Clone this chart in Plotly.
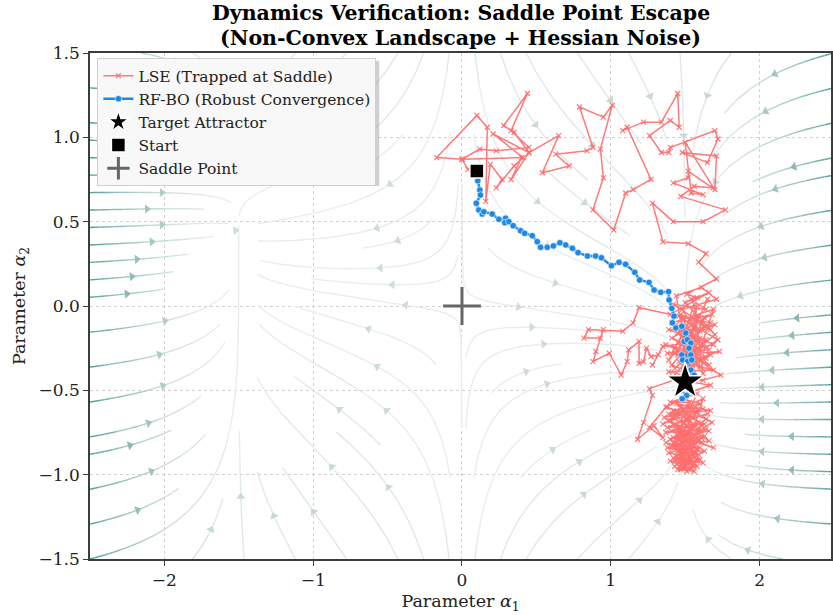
import numpy as np
import plotly.graph_objects as go

# ---------------- data ----------------
# LSE iterates: wandering phase near the start, then the noisy cloud around the attractor
lse_wander = [
    (0.10, 0.80), (0.04, 0.81), (0.00, 0.87), (-0.17, 0.88), (0.10, 1.13), (0.17, 1.06),
    (0.16, 0.62), (0.19, 0.84), (0.27, 0.75), (0.23, 0.70), (0.35, 0.83), (0.41, 0.88),
    (0.21, 1.02), (0.45, 0.91), (0.35, 1.03), (0.28, 1.07), (0.44, 1.26), (0.33, 1.04),
    (0.45, 0.94), (0.23, 0.92), (0.12, 0.93), (0.00, 0.87), (0.40, 0.88), (0.33, 0.75),
    (0.45, 0.91), (0.65, 1.01), (0.54, 0.79), (0.72, 0.83), (0.63, 0.90), (0.84, 0.92),
    (0.88, 0.94), (0.79, 1.18), (0.95, 1.12), (1.01, 1.19), (0.93, 0.93), (0.95, 0.76),
    (0.88, 0.57), (1.02, 0.45), (1.10, 0.67), (1.15, 0.69), (1.27, 0.75), (1.11, 1.06),
    (1.08, 1.04), (1.22, 1.09), (1.34, 1.09), (1.45, 1.26), (1.46, 1.06), (1.40, 1.10),
    (1.26, 1.01), (1.34, 0.91), (1.39, 0.91), (1.40, 0.94), (1.70, 1.04), (1.72, 0.99),
    (1.65, 0.85), (1.48, 0.91), (1.71, 0.89), (1.70, 0.69), (1.52, 0.80), (1.52, 0.76),
    (1.42, 0.73), (1.62, 0.66), (1.54, 0.67), (1.50, 0.97), (1.69, 0.70), (1.56, 0.71),
    (1.47, 0.65), (1.77, 0.57), (1.62, 0.50), (1.42, 0.50), (1.28, 0.61), (1.35, 0.38),
    (1.52, 0.37), (1.64, 0.31), (1.59, 0.26), (1.71, 0.16), (1.51, 0.07), (1.58, 0.05),
]
lse_core_upper = [
    (1.54, 0.04), (1.64, -0.02), (1.42, 0.01), (1.61, -0.10), (1.47, -0.05), (1.67, -0.14),
    (1.39, -0.14), (1.57, -0.20), (1.44, -0.11), (1.69, -0.23), (1.50, -0.26), (1.37, -0.23),
    (1.61, -0.32), (1.54, -0.17), (1.65, 0.04), (1.46, -0.33), (1.69, -0.38), (1.39, -0.39),
    (1.59, -0.43), (1.50, -0.29), (1.63, -0.07), (1.41, -0.19), (1.67, -0.29), (1.52, -0.37),
    (1.44, 0.06), (1.61, 0.11), (1.71, 0.04), (1.48, -0.02), (1.56, -0.13), (1.39, -0.32),
    (1.53, -0.08), (1.68, -0.05), (1.45, -0.16), (1.62, -0.24), (1.49, -0.36), (1.58, -0.01),
    (1.43, -0.25), (1.66, -0.35), (1.51, -0.21), (1.60, -0.15), (1.46, -0.06), (1.57, -0.33),
    (1.40, -0.05), (1.66, 0.08), (1.50, 0.02), (1.70, -0.17), (1.43, -0.37), (1.58, -0.25),
    (1.38, -0.28), (1.64, -0.31), (1.47, -0.14), (1.55, -0.39), (1.69, -0.02), (1.41, -0.10),
    (1.60, -0.19), (1.52, -0.33), (1.73, -0.27), (1.45, -0.29), (1.56, 0.01), (1.62, -0.40),
    (1.48, -0.23), (1.67, -0.10),
]
lse_left_lobe = [
    (1.19, -0.01), (1.15, -0.10), (1.08, -0.15), (0.85, -0.14), (0.82, -0.19), (0.93, -0.19),
    (0.95, -0.14), (0.90, -0.27), (0.88, -0.33), (0.99, -0.28), (1.07, -0.41), (1.11, -0.33),
    (1.12, -0.26), (1.19, -0.21), (1.19, -0.34), (1.22, -0.33), (1.24, -0.25), (1.27, -0.30),
    (1.32, -0.29), (1.28, -0.35), (1.35, -0.24),
]
lse_core_mid = [
    (1.64, -0.20), (1.47, -0.44), (1.67, -0.47), (1.54, -0.51), (1.58, -0.06), (1.45, -0.22),
    (1.70, -0.11), (1.52, -0.15), (1.66, -0.26), (1.43, -0.28), (1.60, -0.36), (1.49, -0.08),
    (1.72, -0.20), (1.55, -0.30), (1.74, -0.41), (1.62, -0.44), (1.42, -0.42), (1.56, -0.27),
    (1.48, -0.18), (1.63, -0.12), (1.41, -0.35), (1.55, -0.40),
]
lse_lower_left = [
    (1.26, -0.49), (1.28, -0.53), (1.22, -0.69), (1.18, -0.79), (1.29, -0.71), (1.35, -0.78),
    (1.26, -0.72), (1.37, -0.60),
]
lse_bottom = [
    (1.48, -0.55), (1.60, -0.58), (1.42, -0.62), (1.55, -0.66), (1.38, -0.60), (1.63, -0.70),
    (1.46, -0.72), (1.58, -0.63), (1.40, -0.68), (1.52, -0.76), (1.66, -0.74), (1.44, -0.79),
    (1.57, -0.82), (1.41, -0.74), (1.61, -0.78), (1.49, -0.84), (1.37, -0.81), (1.55, -0.88),
    (1.45, -0.86), (1.63, -0.86), (1.51, -0.92), (1.42, -0.90), (1.58, -0.95), (1.47, -0.97),
    (1.53, -0.89), (1.43, -0.95), (1.56, -0.83), (1.39, -0.87), (1.60, -0.91), (1.50, -0.80),
    (1.46, -0.93), (1.54, -0.96), (1.48, -0.88), (1.59, -0.74), (1.43, -0.70), (1.65, -0.64),
    (1.51, -0.67), (1.38, -0.72), (1.56, -0.71), (1.47, -0.60), (1.62, -0.61), (1.44, -0.65),
    (1.53, -0.57), (1.40, -0.57), (1.58, -0.52), (1.49, -0.69), (1.61, -0.81), (1.45, -0.77),
    (1.69, -0.84), (1.54, -0.79), (1.41, -0.83), (1.57, -0.87), (1.50, -0.95), (1.44, -0.89),
    (1.52, -0.84), (1.63, -0.77), (1.47, -0.74), (1.36, -0.66), (1.55, -0.62), (1.68, -0.69),
    (1.48, -0.81), (1.58, -0.85), (1.42, -0.78), (1.50, -0.73), (1.46, -0.82), (1.53, -0.93),
    (1.49, -0.96), (1.55, -0.70), (1.45, -0.63), (1.52, -0.60), (1.47, -0.68), (1.57, -0.77),
    (1.43, -0.84), (1.54, -0.91), (1.48, -0.76), (1.51, -0.88), (1.46, -0.95), (1.56, -0.93),
    (1.50, -0.86), (1.44, -0.73), (1.53, -0.81), (1.49, -0.91),
    (1.62, -0.55), (1.39, -0.64), (1.67, -0.62), (1.44, -0.58), (1.59, -0.69), (1.37, -0.75),
    (1.64, -0.73), (1.42, -0.81), (1.60, -0.84), (1.47, -0.90), (1.62, -0.93), (1.40, -0.92),
    (1.56, -0.98), (1.45, -0.97), (1.59, -0.88), (1.38, -0.84), (1.66, -0.80), (1.51, -0.71),
    (1.41, -0.66), (1.57, -0.60), (1.35, -0.70), (1.49, -0.62), (1.64, -0.67), (1.46, -0.79),
    (1.59, -0.80), (1.43, -0.92), (1.55, -0.85), (1.50, -0.77), (1.61, -0.71), (1.47, -0.86),
    (1.53, -0.74), (1.40, -0.79), (1.58, -0.91), (1.49, -0.93), (1.44, -0.81), (1.55, -0.95),
    (1.51, -0.98), (1.46, -0.88), (1.57, -0.79), (1.52, -0.69),
]

# RF-BO iterates
rfbo_path = [
    (0.10, 0.80), (0.106, 0.743), (0.120, 0.688), (0.124, 0.658), (0.096, 0.609), (0.113, 0.569),
    (0.136, 0.545), (0.147, 0.559), (0.203, 0.545), (0.248, 0.514), (0.293, 0.520), (0.288, 0.494),
    (0.315, 0.500), (0.344, 0.476), (0.394, 0.446), (0.421, 0.431), (0.472, 0.417), (0.506, 0.381),
    (0.528, 0.348), (0.573, 0.348), (0.614, 0.356), (0.658, 0.375), (0.697, 0.362), (0.742, 0.342),
    (0.780, 0.316), (0.843, 0.296), (0.898, 0.296), (0.937, 0.286), (1.004, 0.239), (1.055, 0.259),
    (1.100, 0.247), (1.161, 0.200), (1.194, 0.154), (1.257, 0.140), (1.291, 0.095), (1.336, 0.081),
    (1.388, 0.085), (1.392, 0.036), (1.410, -0.014), (1.425, -0.060), (1.414, -0.100), (1.437, -0.130),
    (1.477, -0.120), (1.504, -0.160), (1.493, -0.210), (1.515, -0.200), (1.538, -0.220), (1.526, -0.250),
    (1.538, -0.290), (1.477, -0.290), (1.482, -0.320), (1.515, -0.330), (1.544, -0.320), (1.504, -0.370),
    (1.538, -0.380), (1.560, -0.410), (1.490, -0.420), (1.520, -0.460), (1.470, -0.500), (1.510, -0.530),
    (1.480, -0.550), (1.530, -0.500), (1.500, -0.470), (1.500, -0.450),
]

target_pt = (1.5, -0.45)
start_pt = (0.1, 0.8)
saddle_pt = (0.0, 0.0)

x_ticks = [-2, -1, 0, 1, 2]
y_ticks = [-1.5, -1.0, -0.5, 0.0, 0.5, 1.0, 1.5]

X_LIM = (-2.5, 2.5)
Y_LIM = (-1.5, 1.5)

FONT = "DejaVu Serif"


# ---------------- gradient-flow field and streamlines ----------------
def flow(x, y):
    u = 2.25 * x - x ** 3
    v = -(y + 0.3 * x)
    return u, v


def spiral_seeds(n):
    xfirst, yfirst, xlast, ylast = 0, 1, n - 1, n - 1
    x, y, d = 0, 0, "right"
    for _ in range(n * n):
        yield x, y
        if d == "right":
            x += 1
            if x >= xlast:
                xlast -= 1
                d = "up"
        elif d == "up":
            y += 1
            if y >= ylast:
                ylast -= 1
                d = "left"
        elif d == "left":
            x -= 1
            if x <= xfirst:
                xfirst += 1
                d = "down"
        else:
            y -= 1
            if y <= yfirst:
                yfirst += 1
                d = "right"


def compute_streamlines(density=1.0, maxlength=4.0, minlength=0.1):
    n = int(30 * density)
    mask = np.zeros((n, n), dtype=np.int8)
    w = X_LIM[1] - X_LIM[0]
    h = Y_LIM[1] - Y_LIM[0]
    ds = 0.2 / n

    def direction(xa, ya):
        u, v = flow(X_LIM[0] + xa * w, Y_LIM[0] + ya * h)
        ua, va = u / w, v / h
        s = (ua * ua + va * va) ** 0.5
        if s < 1e-12:
            return None
        return ua / s, va / s

    def cell(xa, ya):
        return int(ya * (n - 1) + 0.5), int(xa * (n - 1) + 0.5)

    def integrate(xa, ya, sign, cells):
        pts, total = [], 0.0
        cur = cell(xa, ya)
        while total < maxlength:
            d1 = direction(xa, ya)
            if d1 is None:
                break
            xm, ym = xa + sign * 0.5 * ds * d1[0], ya + sign * 0.5 * ds * d1[1]
            if not (0 <= xm <= 1 and 0 <= ym <= 1):
                break
            d2 = direction(xm, ym)
            if d2 is None:
                break
            xn, yn = xa + sign * ds * d2[0], ya + sign * ds * d2[1]
            if not (0 <= xn <= 1 and 0 <= yn <= 1):
                break
            c = cell(xn, yn)
            if c != cur:
                if mask[c]:
                    break
                mask[c] = 1
                cells.append(c)
                cur = c
            xa, ya = xn, yn
            pts.append((xa, ya))
            total += ds
        return pts, total

    lines = []
    for xm, ym in spiral_seeds(n):
        if mask[ym, xm]:
            continue
        xa, ya = xm / (n - 1), ym / (n - 1)
        mask[ym, xm] = 1
        cells = [(ym, xm)]
        back, lb = integrate(xa, ya, -1, cells)
        fwd, lf = integrate(xa, ya, 1, cells)
        if lb + lf < minlength:
            for c in cells:
                mask[c] = 0
            continue
        pts = back[::-1] + [(xa, ya)] + fwd
        arr = np.array(pts)
        xs = X_LIM[0] + arr[:, 0] * w
        ys = Y_LIM[0] + arr[:, 1] * h
        lines.append((xs, ys))
    return lines


streams = compute_streamlines()

gx, gy = np.meshgrid(np.linspace(*X_LIM, 200), np.linspace(*Y_LIM, 200))
gu, gv = flow(gx, gy)
speed_max = float(np.hypot(gu, gv).max())

LOW = np.array([236, 239, 239])
HIGH = np.array([82, 158, 153])
ARROW_LOW = np.array([212, 221, 221])
ARROW_HIGH = np.array([66, 147, 142])
N_BINS = 20
GAMMA = 1.5


def mix(a, b, t):
    c = a + (b - a) * t
    return "rgb(%d,%d,%d)" % tuple(np.round(c).astype(int))


bin_x = [[] for _ in range(N_BINS)]
bin_y = [[] for _ in range(N_BINS)]
arrow_x, arrow_y, arrow_ang, arrow_col = [], [], [], []
PX_X = 743 / (2.48 + 2.5)
PX_Y = 506 / 3.0

for xs, ys in streams:
    u, v = flow(xs, ys)
    t = np.clip(np.hypot(u, v) / speed_max, 0, 1) ** GAMMA
    b = np.minimum((t * N_BINS).astype(int), N_BINS - 1)
    start = 0
    for i in range(1, len(xs)):
        if i == len(xs) - 1 or b[i] != b[start]:
            k = b[start]
            bin_x[k].extend(list(xs[start:i + 1]) + [None])
            bin_y[k].extend(list(ys[start:i + 1]) + [None])
            start = i
    # one arrow head half way along each streamline
    seg = np.hypot(np.diff(xs), np.diff(ys))
    s = np.cumsum(seg)
    if len(s) < 2:
        continue
    m = int(np.searchsorted(s, s[-1] / 2.0))
    m = min(m, len(xs) - 2)
    dx = (xs[m + 1] - xs[m]) * PX_X
    dy = (ys[m + 1] - ys[m]) * PX_Y
    arrow_x.append(0.5 * (xs[m] + xs[m + 1]))
    arrow_y.append(0.5 * (ys[m] + ys[m + 1]))
    arrow_ang.append(float(np.degrees(np.arctan2(dx, dy))))
    arrow_col.append(mix(ARROW_LOW, ARROW_HIGH, t[m]))

fig = go.Figure()

for k in range(N_BINS):
    if not bin_x[k]:
        continue
    fig.add_trace(go.Scatter(
        x=bin_x[k], y=bin_y[k], mode="lines",
        line=dict(color=mix(LOW, HIGH, (k + 0.5) / N_BINS), width=1.4),
        hoverinfo="skip", showlegend=False,
    ))

fig.add_trace(go.Scatter(
    x=arrow_x, y=arrow_y, mode="markers",
    marker=dict(symbol="triangle-up", size=8, angle=arrow_ang, color=arrow_col, line=dict(width=0)),
    hoverinfo="skip", showlegend=False,
))

# ---------------- optimiser trajectories ----------------
lse_all = lse_wander + lse_core_upper + lse_left_lobe + lse_core_mid + lse_lower_left + lse_bottom
fig.add_trace(go.Scatter(
    x=[p[0] for p in lse_all], y=[p[1] for p in lse_all],
    mode="lines+markers", name="LSE (Trapped at Saddle)",
    line=dict(color="rgba(255,107,107,0.9)", width=1.5),
    marker=dict(symbol="x-thin", size=5, line=dict(width=1.2, color="rgba(255,107,107,0.9)")),
))
fig.add_trace(go.Scatter(
    x=[p[0] for p in rfbo_path], y=[p[1] for p in rfbo_path],
    mode="lines+markers", name="RF-BO (Robust Convergence)",
    line=dict(color="#1E88E5", width=2.5),
    marker=dict(symbol="circle", size=6.5, color="#1E88E5", line=dict(width=0.6, color="white")),
))
fig.add_trace(go.Scatter(
    x=[target_pt[0]], y=[target_pt[1]], mode="markers", name="Target Attractor",
    marker=dict(symbol="star", size=28, color="black", line=dict(width=1.5, color="white")),
))
fig.add_trace(go.Scatter(
    x=[start_pt[0]], y=[start_pt[1]], mode="markers", name="Start",
    marker=dict(symbol="square", size=14, color="black", line=dict(width=1.5, color="white")),
))
fig.add_trace(go.Scatter(
    x=[saddle_pt[0]], y=[saddle_pt[1]], mode="markers", name="Saddle Point",
    marker=dict(symbol="cross-thin", size=27, color="#666666", line=dict(width=3, color="#666666")),
))

axis_common = dict(
    showline=True, mirror=True, linecolor="#3c3c3c", linewidth=1.5,
    ticks="outside", ticklen=5, tickwidth=1.2, tickcolor="#3c3c3c",
    showgrid=True, gridcolor="#d0d0d0", griddash="dot", gridwidth=1,
    zeroline=False, tickfont=dict(family=FONT, size=17, color="#222222"),
)

plot_h = 615 - 53 - 56
plot_w = 833 - 90


def px_x(p):
    return (p - 90) / plot_w


def px_y(p):
    return (615 - 56 - p) / plot_h


fig.update_layout(
    width=833, height=615,
    margin=dict(l=90, r=0, t=53, b=56),
    paper_bgcolor="white", plot_bgcolor="white",
    font=dict(family=FONT, color="#222222"),
    xaxis=dict(range=[-2.5, 2.48], tickvals=x_ticks, ticktext=["\u22122", "\u22121", "0", "1", "2"],
               title=dict(text="Parameter <i>\u03b1</i><sub>1</sub>", font=dict(family=FONT, size=17.5), standoff=6),
               **axis_common),
    yaxis=dict(range=[-1.5, 1.5], tickvals=y_ticks,
               ticktext=["\u22121.5", "\u22121.0", "\u22120.5", "0.0", "0.5", "1.0", "1.5"],
               title=dict(text="Parameter <i>\u03b1</i><sub>2</sub>", font=dict(family=FONT, size=17.5), standoff=8),
               **axis_common),
    legend=dict(x=0.01, y=0.99, xanchor="left", yanchor="top",
                bgcolor="rgba(249,249,249,0.97)", bordercolor="#cfcfcf", borderwidth=1,
                font=dict(family=FONT, size=15.5, color="#222222")),
    shapes=[
        # soft drop shadow behind the legend box
        dict(type="rect", xref="paper", yref="paper", layer="above",
             x0=px_x(100), x1=px_x(380), y0=px_y(186), y1=px_y(61),
             fillcolor="rgba(120,120,120,0.35)", line=dict(width=0)),
    ],
    annotations=[
        dict(text="<b>Dynamics Verification: Saddle Point Escape</b>", x=0.5, xref="paper",
             y=1 + (53 - 13) / plot_h, yref="paper", yanchor="middle", showarrow=False,
             font=dict(family=FONT, size=20.5, color="black")),
        dict(text="<b>(Non-Convex Landscape + Hessian Noise)</b>", x=0.5, xref="paper",
             y=1 + (53 - 38) / plot_h, yref="paper", yanchor="middle", showarrow=False,
             font=dict(family=FONT, size=20.5, color="black")),
    ],
)

fig.write_html("out.html")
